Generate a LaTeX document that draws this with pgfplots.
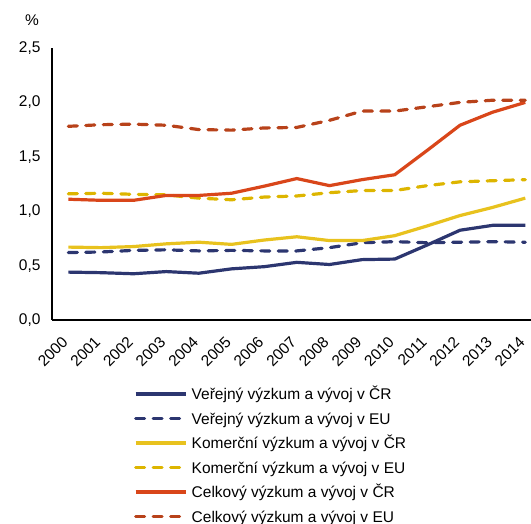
\documentclass[border=0pt]{standalone}
\usepackage{pgfplots}
\pgfplotsset{compat=1.18}
\usepackage{fontspec}
\setmainfont{Liberation Sans}
\definecolor{navy}{HTML}{2C3670}
\definecolor{yel}{HTML}{E8C21E}
\definecolor{yeld}{HTML}{DDB500}
\definecolor{red1}{HTML}{D9461A}
\definecolor{red2}{HTML}{B8421A}
\begin{document}
\begin{tikzpicture}[x=1pt,y=1pt]
\useasboundingbox (0,0) rectangle (531,524);
\node[font=\fontsize{15.5}{18}\selectfont] at (32,504) {\%};
\begin{axis}[
  at={(52pt,204pt)}, anchor=south west,
  scale only axis, width=479pt, height=272pt,
  xmin=1999.5, xmax=2014.175, ymin=0, ymax=2.5,
  axis x line*=bottom, axis y line*=left,
  axis line style={line width=1.3pt, -},
  xtick={2000,...,2014}, ytick={0,0.5,...,2.5},
  major tick length=0pt,
  /pgf/number format/assume math mode=true,
  tick label style={font=\fontsize{15.5}{18}\selectfont},
  yticklabel style={/pgf/number format/.cd, use comma, fixed, fixed zerofill, precision=1, /tikz/.cd, xshift=-8pt},
  xticklabel style={/pgf/number format/1000 sep={}, xshift=0.5pt, yshift=-23pt, rotate=45, anchor=base east, inner sep=0pt},
  legend style={at={(0.1712,-0.2482)}, anchor=north west, draw=none, fill=none, inner sep=0pt, outer sep=0pt,
    row sep=11.5pt, column sep=4.5pt, font=\fontsize{15.5}{18}\selectfont,
    nodes={inner sep=0pt, text height=12pt, text depth=1pt}},
  legend cell align=left,
  legend image code/.code={\draw[#1] (0pt,0pt) -- (50pt,0pt);},
  every axis plot/.append style={line width=3.2pt},
  clip=false,
]
\addplot[navy, line cap=butt] coordinates {(2000,0.44)(2001,0.435)(2002,0.425)(2003,0.445)(2004,0.43)(2005,0.47)(2006,0.49)(2007,0.53)(2008,0.51)(2009,0.555)(2010,0.56)(2011,0.69)(2012,0.825)(2013,0.87)(2014,0.87)};
\addlegendentry{Veřejný výzkum a vývoj v ČR}
\addplot[navy, line cap=round, dash pattern=on 9pt off 8.5pt] coordinates {(2000,0.62)(2001,0.625)(2002,0.64)(2003,0.645)(2004,0.635)(2005,0.64)(2006,0.635)(2007,0.635)(2008,0.665)(2009,0.71)(2010,0.72)(2011,0.71)(2012,0.715)(2013,0.72)(2014,0.715)};
\addlegendentry{Veřejný výzkum a vývoj v EU}
\addplot[yel, line cap=butt] coordinates {(2000,0.67)(2001,0.665)(2002,0.675)(2003,0.70)(2004,0.715)(2005,0.695)(2006,0.735)(2007,0.765)(2008,0.73)(2009,0.73)(2010,0.775)(2011,0.865)(2012,0.96)(2013,1.035)(2014,1.12)};
\addlegendentry{Komerční výzkum a vývoj v ČR}
\addplot[yeld, line cap=round, dash pattern=on 9pt off 8.5pt] coordinates {(2000,1.16)(2001,1.165)(2002,1.155)(2003,1.15)(2004,1.12)(2005,1.105)(2006,1.13)(2007,1.14)(2008,1.17)(2009,1.19)(2010,1.19)(2011,1.235)(2012,1.27)(2013,1.28)(2014,1.29)};
\addlegendentry{Komerční výzkum a vývoj v EU}
\addplot[red1, line cap=butt] coordinates {(2000,1.11)(2001,1.10)(2002,1.10)(2003,1.145)(2004,1.145)(2005,1.165)(2006,1.23)(2007,1.30)(2008,1.235)(2009,1.29)(2010,1.335)(2011,1.56)(2012,1.79)(2013,1.91)(2014,2.0)};
\addlegendentry{Celkový výzkum a vývoj v ČR}
\addplot[red2, line cap=round, dash pattern=on 9pt off 8.5pt] coordinates {(2000,1.78)(2001,1.795)(2002,1.80)(2003,1.79)(2004,1.75)(2005,1.745)(2006,1.765)(2007,1.77)(2008,1.835)(2009,1.92)(2010,1.92)(2011,1.96)(2012,2.0)(2013,2.02)(2014,2.02)};
\addlegendentry{Celkový výzkum a vývoj v EU}
\end{axis}
\end{tikzpicture}
\end{document}
